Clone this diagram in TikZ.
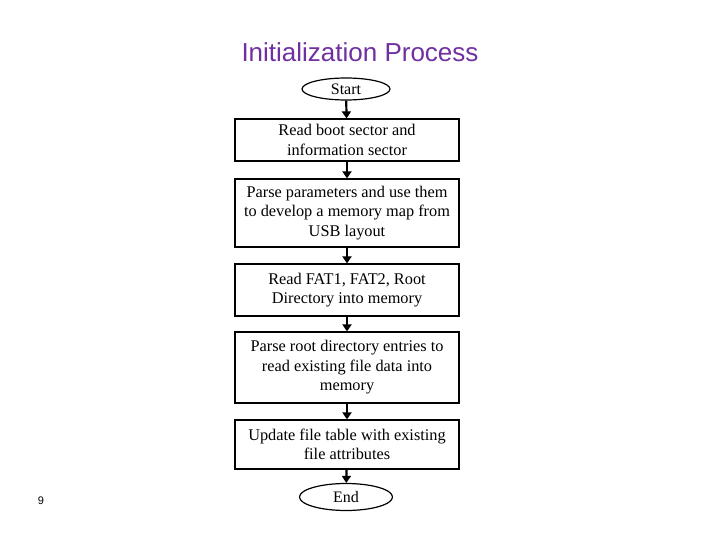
\documentclass[tikz,border=0pt]{standalone}
\usepackage{fontspec}
\setmainfont{Liberation Serif}
\newfontfamily\titlefont{Liberation Sans}
\usetikzlibrary{shapes.geometric,arrows.meta}
\definecolor{titlepurple}{RGB}{112,48,160}
\tikzset{
	stepbox/.style={draw,line width=1.2pt,minimum width=224pt,align=center,font=\fontsize{16.3}{19.5}\selectfont,inner sep=0pt},
	term/.style={draw,ellipse,line width=1.2pt,font=\fontsize{16}{18}\selectfont,inner sep=0pt},
	flow/.style={-{Triangle[length=7pt,width=9pt]},line width=2.2pt}
}
\begin{document}
\begin{tikzpicture}[x=1pt,y=-1pt]
	\useasboundingbox (0,0) rectangle (720,540);
	\node[font=\titlefont\fontsize{26}{30}\selectfont,text=titlepurple] (title) at (360,52) {Initialization Process};
	%
	\node[term,minimum width=88pt,minimum height=22pt] (start) at (346,89) {Start};
	\node[stepbox,minimum height=42pt] (boot) at (347,140) {Read boot sector and\\information sector};
	\node[stepbox,minimum height=68pt] (parse) at (347,213) {Parse parameters and use them\\to develop a memory map from\\USB layout};
	\node[stepbox,minimum height=52pt] (fat) at (347,290) {Read FAT1, FAT2, Root\\Directory into memory};
	\node[stepbox,minimum height=71pt] (root) at (347,367.5) {Parse root directory entries to\\read existing file data into\\memory};
	\node[stepbox,minimum height=49pt] (table) at (347,444.5) {Update file table with existing\\file attributes};
	\node[term,minimum width=93pt,minimum height=27pt] (end) at (346,497) {End};
	%
	\draw[flow] (start) -- (boot);
	\draw[flow] (boot) -- (parse);
	\draw[flow] (parse) -- (fat);
	\draw[flow] (fat) -- (root);
	\draw[flow] (root) -- (table);
	\draw[flow] (table) -- (end);
	%
	\node[font=\titlefont\fontsize{11}{13}\selectfont] (page) at (41,501) {9};
\end{tikzpicture}
\end{document}
